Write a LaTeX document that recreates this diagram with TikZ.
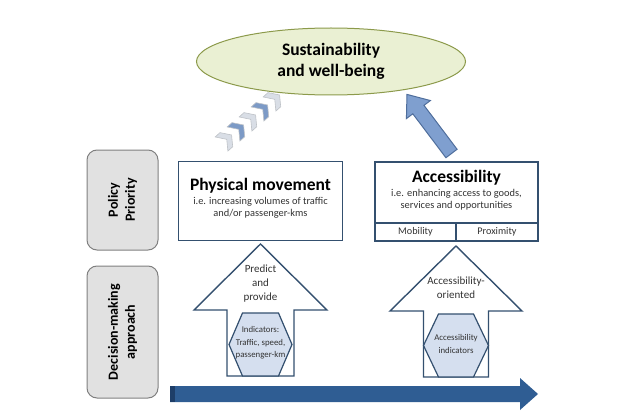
\documentclass[tikz,border=0pt]{standalone}
\usepackage{fontspec}
\setmainfont{Carlito}
\usetikzlibrary{shapes.geometric}
\definecolor{boxblue}{HTML}{34506F}
\definecolor{goalfill}{HTML}{EAF0D3}
\definecolor{goalline}{HTML}{8C9A4B}
\definecolor{sidefill}{HTML}{E1E1E1}
\definecolor{sideline}{HTML}{808080}
\definecolor{hexfill}{HTML}{D5DFEF}
\definecolor{arrowfill}{HTML}{7F9FCF}
\definecolor{arrowline}{HTML}{4F6E9C}
\definecolor{bottomfill}{HTML}{2F5D93}
\definecolor{bottomdark}{HTML}{1E3E68}
\definecolor{chevlight}{HTML}{D9DEE6}
\definecolor{chevblue}{HTML}{7C9AC6}
\definecolor{textgray}{HTML}{333333}

\begin{document}
\begin{tikzpicture}[x=1pt, y=-1pt]
  \tikzset{
    goal_node/.style={ellipse, draw=goalline, fill=goalfill, line width=1pt, inner sep=0pt, minimum width=269pt, minimum height=67pt, align=center, font=\bfseries\fontsize{17.5}{21}\selectfont},
    side_node/.style={rectangle, rounded corners=10pt, draw=sideline, fill=sidefill, line width=1pt, rotate=90, align=center, minimum height=71pt, font=\bfseries\fontsize{14}{17}\selectfont},
    prio_node/.style={rectangle, draw=boxblue, fill=white, line width=1.4pt, inner sep=0pt},
    tab_node/.style={rectangle, draw=boxblue, line width=1.4pt, inner sep=0pt, minimum height=18pt, text=textgray, font=\fontsize{10.2}{11}\selectfont},
    title_text/.style={inner sep=0pt, font=\bfseries\fontsize{17.5}{21}\selectfont},
    sub_text/.style={inner sep=0pt, align=center, text=textgray, font=\fontsize{10.4}{12}\selectfont},
    way_text/.style={inner sep=0pt, align=center, text=textgray, font=\fontsize{11}{14}\selectfont},
    hex_text/.style={inner sep=0pt, align=center, text=textgray, font=\fontsize{8.8}{12.5}\selectfont},
    up_arrow/.style={draw=boxblue, fill=white, line width=1.4pt},
    hex_shape/.style={draw=boxblue, fill=hexfill, line width=1.2pt}
  }
  \useasboundingbox (0,0) rectangle (622,420);

  % Objetivo
  \node[goal_node] (goal) at (331,61.5) {Sustainability\\and well-being};

  % Etiquetas laterales
  \node[side_node, minimum width=100pt] (policy) at (122.5,200) {Policy\\Priority};
  \node[side_node, minimum width=132pt] (decision) at (122.5,332) {Decision-making\\approach};

  % Prioridades
  \node[prio_node, minimum width=164pt, minimum height=79pt] (physical) at (260.5,201) {};
  \node[title_text] (physical_title) at (260.5,186) {Physical movement};
  \node[sub_text] (physical_sub) at (260.5,208) {i.e. increasing volumes of traffic\\and/or passenger-kms};

  \node[prio_node, minimum width=163pt, minimum height=79pt] (access) at (456.5,201.5) {};
  \node[title_text] (access_title) at (456.5,178) {Accessibility};
  \node[sub_text] (access_sub) at (456.5,200) {i.e. enhancing access to goods,\\services and opportunities};
  \node[tab_node, minimum width=81pt] (mobility) at (415.5,232) {Mobility};
  \node[tab_node, minimum width=82pt] (proximity) at (497,232) {Proximity};

  % Flechas de enfoque
  \draw[up_arrow] (260.5,244) -- (327,310) -- (294,310) -- (294,376) -- (227,376) -- (227,310) -- (194,310) -- cycle;
  \draw[hex_shape] (229,344.5) -- (242.5,313) -- (278.5,313) -- (292,344.5) -- (278.5,376) -- (242.5,376) -- cycle;
  \node[way_text] (predict) at (260.5,284) {Predict\\and\\provide};
  \node[hex_text] (indicators) at (260.5,343) {Indicators:\\Traffic, speed,\\passenger-km};

  \draw[up_arrow] (456,246) -- (522,311) -- (488.5,311) -- (488.5,377) -- (423.5,377) -- (423.5,311) -- (390,311) -- cycle;
  \draw[hex_shape] (423.5,345.5) -- (438.5,314) -- (473.5,314) -- (488.5,345.5) -- (473.5,377) -- (438.5,377) -- cycle;
  \node[way_text] (oriented) at (456,288) {Accessibility-\\oriented};
  \node[hex_text] (access_ind) at (456,344) {Accessibility\\indicators};

  % Chevrones hacia el objetivo
  \foreach \k/\col in {0/chevlight,1/chevblue,2/chevlight,3/chevblue,4/chevlight}{
    \begin{scope}[shift={({226+12*\k},{140-10*\k})}, rotate=42]
      \filldraw[fill=\col, draw=chevlight!70!gray, line width=0.6pt] (-6,-9.5) -- (0.5,-9.5) -- (7.5,0) -- (0.5,9.5) -- (-6,9.5) -- (1,0) -- cycle;
    \end{scope}
  }

  % Flecha azul desde la accesibilidad
  \coordinate (blue_tail) at (451.5,153.5);
  \begin{scope}[shift={(blue_tail)}, rotate=127]
    \filldraw[fill=arrowfill, draw=arrowline, line width=1pt] (0,-7) -- (55,-7) -- (55,-15) -- (74,0) -- (55,15) -- (55,7) -- (0,7) -- cycle;
  \end{scope}

  % Flecha inferior
  \fill[bottomfill] (170,386) -- (520,386) -- (520,378) -- (538,394) -- (520,410) -- (520,402) -- (170,402) -- cycle;
  \fill[bottomdark] (170,386) rectangle (175,402);
\end{tikzpicture}
\end{document}
